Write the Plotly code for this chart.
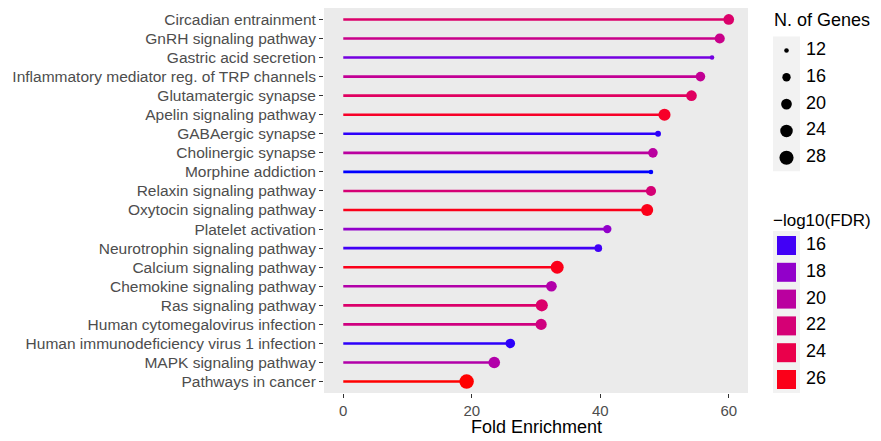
import numpy as np
import plotly.graph_objects as go

# ---------------- data (top to bottom as shown) ----------------
pathways = [
    "Circadian entrainment",
    "GnRH signaling pathway",
    "Gastric acid secretion",
    "Inflammatory mediator reg. of TRP channels",
    "Glutamatergic synapse",
    "Apelin signaling pathway",
    "GABAergic synapse",
    "Cholinergic synapse",
    "Morphine addiction",
    "Relaxin signaling pathway",
    "Oxytocin signaling pathway",
    "Platelet activation",
    "Neurotrophin signaling pathway",
    "Calcium signaling pathway",
    "Chemokine signaling pathway",
    "Ras signaling pathway",
    "Human cytomegalovirus infection",
    "Human immunodeficiency virus 1 infection",
    "MAPK signaling pathway",
    "Pathways in cancer",
]
fold_enrichment = [60.0, 58.6, 57.4, 55.6, 54.2, 50.0, 49.0, 48.2, 47.9, 47.9,
                   47.3, 41.1, 39.7, 33.3, 32.4, 30.9, 30.8, 26.0, 23.5, 19.2]
n_genes = [20, 19, 12, 18, 20, 23, 13, 18, 12, 19,
           23, 16, 15, 25, 20, 23, 21, 18, 22, 29]
neg_log10_fdr = [22.5, 21.0, 17.0, 20.5, 23.0, 25.5, 15.8, 20.0, 15.6, 22.0,
                 26.0, 18.0, 16.0, 26.0, 19.5, 22.5, 21.5, 15.8, 19.5, 26.5]

size_breaks = [12, 16, 20, 24, 28]
color_breaks = [16, 18, 20, 22, 24, 26]

FONT = "Liberation Sans, Arial, Helvetica, sans-serif"
WIN_W, WIN_H = 881, 441
OFF = 8                      # page body margin
W, H = WIN_W - OFF, WIN_H - OFF

# ---------------- scales ----------------
def _lin(c):
    c = np.asarray(c, float)
    return np.where(c <= 0.04045, c / 12.92, ((c + 0.055) / 1.055) ** 2.4)

def _gam(c):
    c = np.clip(c, 0, 1)
    return np.where(c <= 0.0031308, 12.92 * c, 1.055 * c ** (1 / 2.4) - 0.055)

_M = np.array([[0.4124564, 0.3575761, 0.1804375],
               [0.2126729, 0.7151522, 0.0721750],
               [0.0193339, 0.1191920, 0.9503041]])
_WP = np.array([0.95047, 1.0, 1.08883])
_d = 6 / 29

def _f(t):
    return np.where(t > _d ** 3, np.cbrt(t), t / (3 * _d ** 2) + 4 / 29)

def _finv(t):
    return np.where(t > _d, t ** 3, 3 * _d ** 2 * (t - 4 / 29))

def rgb2lab(rgb):
    xyz = _M @ _lin(np.array(rgb) / 255.0) / _WP
    fx, fy, fz = _f(xyz)
    return np.array([116 * fy - 16, 500 * (fx - fy), 200 * (fy - fz)])

def lab2hex(lab):
    L, a, b = lab
    fy = (L + 16) / 116
    fx = fy + a / 500
    fz = fy - b / 200
    xyz = _finv(np.array([fx, fy, fz])) * _WP
    rgb = _gam(np.linalg.solve(_M, xyz))
    r, g, bb = (np.round(rgb * 255)).astype(int)
    return "#%02X%02X%02X" % (r, g, bb)

LOW, HIGH = rgb2lab([0, 0, 255]), rgb2lab([255, 0, 0])
c_lo, c_hi = min(neg_log10_fdr), max(neg_log10_fdr)

def color_of(v):
    t = (v - c_lo) / (c_hi - c_lo)
    return lab2hex(LOW + (HIGH - LOW) * t)

def diam_of(n):
    return 1.5 + 13.0 * np.sqrt(max(n - 11, 0) / 18.0)

colors = [color_of(v) for v in neg_log10_fdr]
sizes = [diam_of(n) for n in n_genes]

fig = go.Figure()

# segments
for p, fe, c in zip(pathways, fold_enrichment, colors):
    fig.add_trace(go.Scatter(x=[0, fe], y=[p, p], mode="lines",
                             line=dict(color=c, width=2.6),
                             showlegend=False, hoverinfo="skip"))
# points
fig.add_trace(go.Scatter(x=fold_enrichment, y=pathways, mode="markers",
                         marker=dict(color=colors, size=sizes, opacity=1,
                                     line=dict(width=0)),
                         showlegend=False))

# ---------------- manual legends on an overlay axis (window-pixel units) ----------------
size_rows = [50.5 + 26.8 * i for i in range(len(size_breaks))]
color_rows = [245.5 + 26.8 * i for i in range(len(color_breaks))]
key_x = 786.5
lab_x = 806

fig.add_shape(type="rect", xref="x2", yref="y2", x0=773, x1=800,
              y0=size_rows[0] - 14, y1=size_rows[-1] + 13.5,
              fillcolor="#F2F2F2", line=dict(width=0), layer="below")
fig.add_shape(type="rect", xref="x2", yref="y2", x0=773, x1=800,
              y0=color_rows[0] - 14.5, y1=color_rows[-1] + 13.5,
              fillcolor="#F2F2F2", line=dict(width=0), layer="below")

fig.add_trace(go.Scatter(x=[key_x] * len(size_breaks), y=size_rows, mode="markers",
                         marker=dict(color="black", size=[diam_of(n) for n in size_breaks],
                                     opacity=1, line=dict(width=0)),
                         xaxis="x2", yaxis="y2", showlegend=False, hoverinfo="skip"))
fig.add_trace(go.Scatter(x=[lab_x] * len(size_breaks), y=size_rows, mode="text",
                         text=[str(b) for b in size_breaks], textposition="middle right",
                         textfont=dict(family=FONT, size=18, color="black"),
                         xaxis="x2", yaxis="y2", showlegend=False, hoverinfo="skip"))
fig.add_trace(go.Scatter(x=[key_x] * len(color_breaks), y=color_rows, mode="markers",
                         marker=dict(color=[color_of(b) for b in color_breaks], size=19,
                                     symbol="square", opacity=1, line=dict(width=0)),
                         xaxis="x2", yaxis="y2", showlegend=False, hoverinfo="skip"))
fig.add_trace(go.Scatter(x=[lab_x] * len(color_breaks), y=color_rows, mode="text",
                         text=[str(b) for b in color_breaks], textposition="middle right",
                         textfont=dict(family=FONT, size=18, color="black"),
                         xaxis="x2", yaxis="y2", showlegend=False, hoverinfo="skip"))

annotations = [
    dict(text="N. of Genes", xref="x2", yref="y2", x=772, y=20, xanchor="left",
         yanchor="middle", showarrow=False, font=dict(family=FONT, size=18, color="black")),
    dict(text="\u2212log10(FDR)", xref="x2", yref="y2", x=771, y=220, xanchor="left",
         yanchor="middle", showarrow=False, font=dict(family=FONT, size=17, color="black")),
    dict(text="Fold Enrichment", xref="x2", yref="y2", x=536, y=427, xanchor="center",
         yanchor="middle", showarrow=False, font=dict(family=FONT, size=18, color="black")),
]

# panel background
fig.add_shape(type="rect", xref="x domain", yref="y domain", x0=0, x1=1, y0=0, y1=1,
              fillcolor="#EBEBEB", line=dict(width=0), layer="below")

n = len(pathways)
fig.update_layout(
    width=W, height=H,
    margin=dict(l=0, r=0, t=0, b=0),
    paper_bgcolor="white", plot_bgcolor="rgba(0,0,0,0)",
    font=dict(family=FONT),
    annotations=annotations,
    xaxis=dict(domain=[(324 - OFF) / W, (748 - OFF) / W], range=[-3, 63],
               tickvals=[0, 20, 40, 60],
               showgrid=False, zeroline=False, showline=False,
               ticks="outside", ticklen=4, tickwidth=1.1, tickcolor="#333333",
               tickfont=dict(family=FONT, size=15, color="#4D4D4D")),
    yaxis=dict(domain=[1 - (393 - OFF) / H, 1 - (8 - OFF) / H], type="category",
               categoryorder="array", categoryarray=pathways[::-1],
               range=[-0.6, n - 0.4],
               showgrid=False, zeroline=False, showline=False,
               ticks="outside", ticklen=4, tickwidth=1.1, tickcolor="#333333",
               tickfont=dict(family=FONT, size=15.5, color="#4D4D4D")),
    xaxis2=dict(domain=[0, 1], range=[OFF, WIN_W], visible=False, anchor="y2"),
    yaxis2=dict(domain=[0, 1], range=[WIN_H, OFF], visible=False, anchor="x2"),
)

fig.write_html("out.html")
